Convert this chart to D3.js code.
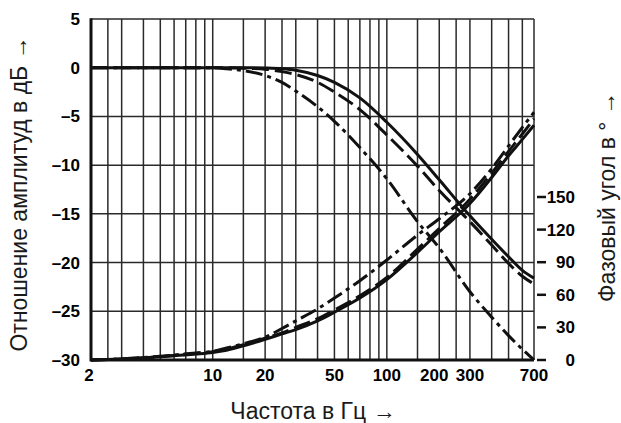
<!DOCTYPE html>
<html>
<head>
<meta charset="utf-8">
<script src="https://cdnjs.cloudflare.com/ajax/libs/d3/7.8.5/d3.min.js"></script>
<style>
  body { margin: 0; background: #fff; }
  svg { display: block; }
</style>
</head>
<body>
<script>
var freqs = [2, 3, 5, 8, 10, 12, 15, 20, 25, 30, 40, 50, 70, 100, 150, 200, 300, 400, 500, 600, 700];

// amplitude ratio in dB
var ampSolid   = [0, 0, 0, 0, 0, 0, 0, -0.03, -0.1, -0.25, -0.8, -1.5, -3.1, -5.6, -8.9, -11.5, -15.2, -17.6, -19.4, -20.8, -21.6];
var ampDashed  = [0, 0, 0, 0, 0, 0, -0.05, -0.15, -0.4, -0.7, -1.5, -2.5, -4.3, -6.9, -10.1, -12.6, -15.8, -18.2, -20.1, -21.4, -22.2];
var ampDashDot = [0, 0, 0, 0, 0, -0.1, -0.3, -0.8, -1.5, -2.4, -4.0, -5.5, -8.2, -11.4, -15.8, -18.5, -23.0, -25.6, -27.5, -28.9, -30];

// phase angle in degrees
var phSolid   = [0, 1, 3, 5.5, 7, 9, 13, 19, 24, 28, 36, 44, 57, 74, 99, 118, 144, 168, 188, 203, 216];
var phDashed  = [0, 1, 3, 6, 7.5, 10, 14, 20, 25, 30, 38, 46, 59, 76, 102, 121, 148, 172, 192, 208, 222];
var phDashDot = [0, 1, 3.5, 6.5, 8, 11, 15, 21, 29, 36, 47, 57, 73, 92, 115, 130, 153, 176, 197, 214, 228];

// tick labels
var freqTicks = [2, 10, 20, 50, 100, 200, 300, 700];
var freqGrid = [2.5, 3, 4, 5, 6, 7, 8, 9, 10, 15, 20, 25, 30, 40, 50, 60, 70, 80, 90, 100, 150, 200, 250, 300, 400, 500, 600, 700];
var dbTicks = [5, 0, -5, -10, -15, -20, -25, -30];
var phaseTicks = [0, 30, 60, 90, 120, 150];

function drawChart(){
    var width = 621, height = 423;
    var left = 91, right = 534, top = 19, bottom = 360;

    var svg = d3.select("body").append("svg")
        .attr("width", width)
        .attr("height", height);

    //skalor
    var xScale = d3.scaleLog().domain([2, 700]).range([left, right]);
    var yScale = d3.scaleLinear().domain([-30, 5]).range([bottom, top]);
    var pScale = d3.scaleLinear().domain([0, 150]).range([bottom, 197]);

    var gridColor = "#2a2a2a";

    //rutnät
    svg.append("g").selectAll("line").data(freqGrid).enter()
        .append("line")
        .attr("x1", function(d){ return xScale(d); })
        .attr("x2", function(d){ return xScale(d); })
        .attr("y1", top).attr("y2", bottom)
        .attr("stroke", gridColor).attr("stroke-width", 1.5);

    svg.append("g").selectAll("line").data(dbTicks).enter()
        .append("line")
        .attr("x1", left).attr("x2", right)
        .attr("y1", function(d){ return yScale(d); })
        .attr("y2", function(d){ return yScale(d); })
        .attr("stroke", gridColor).attr("stroke-width", 1.5);

    //axlar (vänster och botten tjocka)
    svg.append("line").attr("x1", left).attr("x2", left).attr("y1", top - 0.75).attr("y2", bottom + 1.5)
        .attr("stroke", "#111").attr("stroke-width", 3);
    svg.append("line").attr("x1", left).attr("x2", right).attr("y1", bottom).attr("y2", bottom)
        .attr("stroke", "#111").attr("stroke-width", 3);

    //kurvor
    var curves = [
        {vals: ampSolid, scale: yScale, dash: null},
        {vals: ampDashed, scale: yScale, dash: "17,6"},
        {vals: ampDashDot, scale: yScale, dash: "17,5,4,5"},
        {vals: phSolid, scale: pScale, dash: null},
        {vals: phDashed, scale: pScale, dash: "17,6"},
        {vals: phDashDot, scale: pScale, dash: "17,5,4,5"}
    ];

    curves.forEach(function(c){
        var line = d3.line()
            .x(function(d, i){ return xScale(freqs[i]); })
            .y(function(d){ return c.scale(d); })
            .curve(d3.curveMonotoneX);
        svg.append("path")
            .datum(c.vals)
            .attr("d", line)
            .attr("fill", "none")
            .attr("stroke", "#111")
            .attr("stroke-width", 3)
            .attr("stroke-dasharray", c.dash);
    });

    var tickFont = "'Liberation Sans', Arial, sans-serif";

    //y-etiketter
    svg.append("g").selectAll("text").data(dbTicks).enter()
        .append("text")
        .attr("x", 80)
        .attr("y", function(d){ return yScale(d) + 6; })
        .attr("text-anchor", "end")
        .attr("font-family", tickFont)
        .attr("font-weight", "bold")
        .attr("font-size", 17)
        .text(function(d){ return d < 0 ? "\u2013" + Math.abs(d) : d; });

    //x-etiketter
    svg.append("g").selectAll("text").data(freqTicks).enter()
        .append("text")
        .attr("x", function(d){ return xScale(d) + (d == 2 ? -2 : 0) + (d == 200 ? -5 : 0); })
        .attr("y", 381)
        .attr("text-anchor", "middle")
        .attr("font-family", tickFont)
        .attr("font-weight", "bold")
        .attr("font-size", 17)
        .text(function(d){ return d; });

    //fasvinkel-axel till höger
    svg.append("g").selectAll("line").data(phaseTicks).enter()
        .append("line")
        .attr("x1", 537).attr("x2", 546)
        .attr("y1", function(d){ return pScale(d); })
        .attr("y2", function(d){ return pScale(d); })
        .attr("stroke", "#111").attr("stroke-width", 2.5);

    svg.append("g").selectAll("text").data(phaseTicks).enter()
        .append("text")
        .attr("x", 575)
        .attr("y", function(d){ return pScale(d) + 6; })
        .attr("text-anchor", "end")
        .attr("font-family", tickFont)
        .attr("font-weight", "bold")
        .attr("font-size", 17)
        .text(function(d){ return d; });

    //axeltitlar
    var titleFont = "'Liberation Sans', Arial, sans-serif";
    svg.append("text")
        .attr("transform", "translate(27,194) rotate(-90)")
        .attr("text-anchor", "middle")
        .attr("font-family", titleFont)
        .attr("font-size", 23)
        .attr("fill", "#1a1a1a")
        .text("Отношение амплитуд в дБ →");

    svg.append("text")
        .attr("x", 313).attr("y", 419)
        .attr("text-anchor", "middle")
        .attr("font-family", titleFont)
        .attr("font-size", 23)
        .attr("fill", "#1a1a1a")
        .text("Частота в Гц →");

    svg.append("text")
        .attr("transform", "translate(615,197) rotate(-90)")
        .attr("text-anchor", "middle")
        .attr("font-family", titleFont)
        .attr("font-size", 23)
        .attr("fill", "#1a1a1a")
        .text("Фазовый угол в ° →");
}

drawChart();
</script>
</body>
</html>
